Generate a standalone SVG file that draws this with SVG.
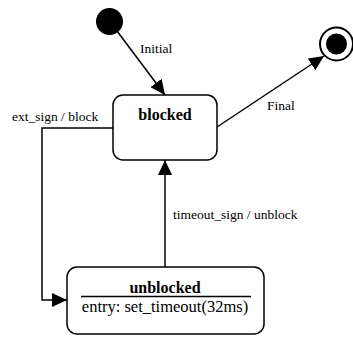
<svg xmlns="http://www.w3.org/2000/svg" width="353" height="338" viewBox="0 0 353 338">
  <style>
    .state { fill: #ffffff; stroke: #000000; stroke-width: 1.5; }
    .edge { fill: none; stroke: #000000; stroke-width: 1.5; marker-end: url(#arrow); }
    .label { font-family: "Liberation Serif", "Times New Roman", serif; font-size: 13.5px; fill: #000000; }
    .title { font-family: "Liberation Serif", "Times New Roman", serif; font-size: 16px; font-weight: bold; fill: #000000; text-anchor: middle; }
    .body { font-family: "Liberation Serif", "Times New Roman", serif; font-size: 16.5px; fill: #000000; text-anchor: middle; }
  </style>
  <defs>
    <marker id="arrow" viewBox="0 0 15 14" refX="15" refY="7" markerWidth="15" markerHeight="14" markerUnits="userSpaceOnUse" orient="auto">
      <path d="M0,0 L15,7 L0,14 Z" fill="#000000"/>
    </marker>
  </defs>

  <!-- transitions -->
  <g id="connectors">
    <line class="edge" x1="117" y1="31" x2="165" y2="95"/>
    <line class="edge" x1="217" y1="127" x2="324" y2="56"/>
    <polyline class="edge" points="113,128 42,128 42,300 67,300"/>
    <line class="edge" x1="165" y1="267" x2="165" y2="160"/>
    <text class="label" x="140" y="53">Initial</text>
    <text class="label" x="267" y="110">Final</text>
    <text class="label" x="12" y="121">ext_sign / block</text>
    <text class="label" x="173" y="219">timeout_sign / unblock</text>
  </g>

  <!-- pseudo-states -->
  <g id="initial">
    <circle cx="109.5" cy="21.5" r="13.5" fill="#000000"/>
  </g>
  <g id="final">
    <circle cx="336.5" cy="44" r="16.5" fill="#ffffff" stroke="#000000" stroke-width="2"/>
    <circle cx="336.5" cy="44" r="10.5" fill="#000000"/>
  </g>

  <!-- states -->
  <g id="blocked">
    <rect class="state" x="113" y="95" width="104" height="65" rx="10" ry="10"/>
    <text class="title" x="165" y="120">blocked</text>
  </g>
  <g id="unblocked">
    <rect class="state" x="67" y="267" width="197" height="67" rx="10" ry="10"/>
    <text class="title" x="165" y="293">unblocked</text>
    <line x1="81" y1="296.5" x2="251" y2="296.5" stroke="#000000" stroke-width="1.5"/>
    <text class="body" x="165" y="312">entry: set_timeout(32ms)</text>
  </g>
</svg>
